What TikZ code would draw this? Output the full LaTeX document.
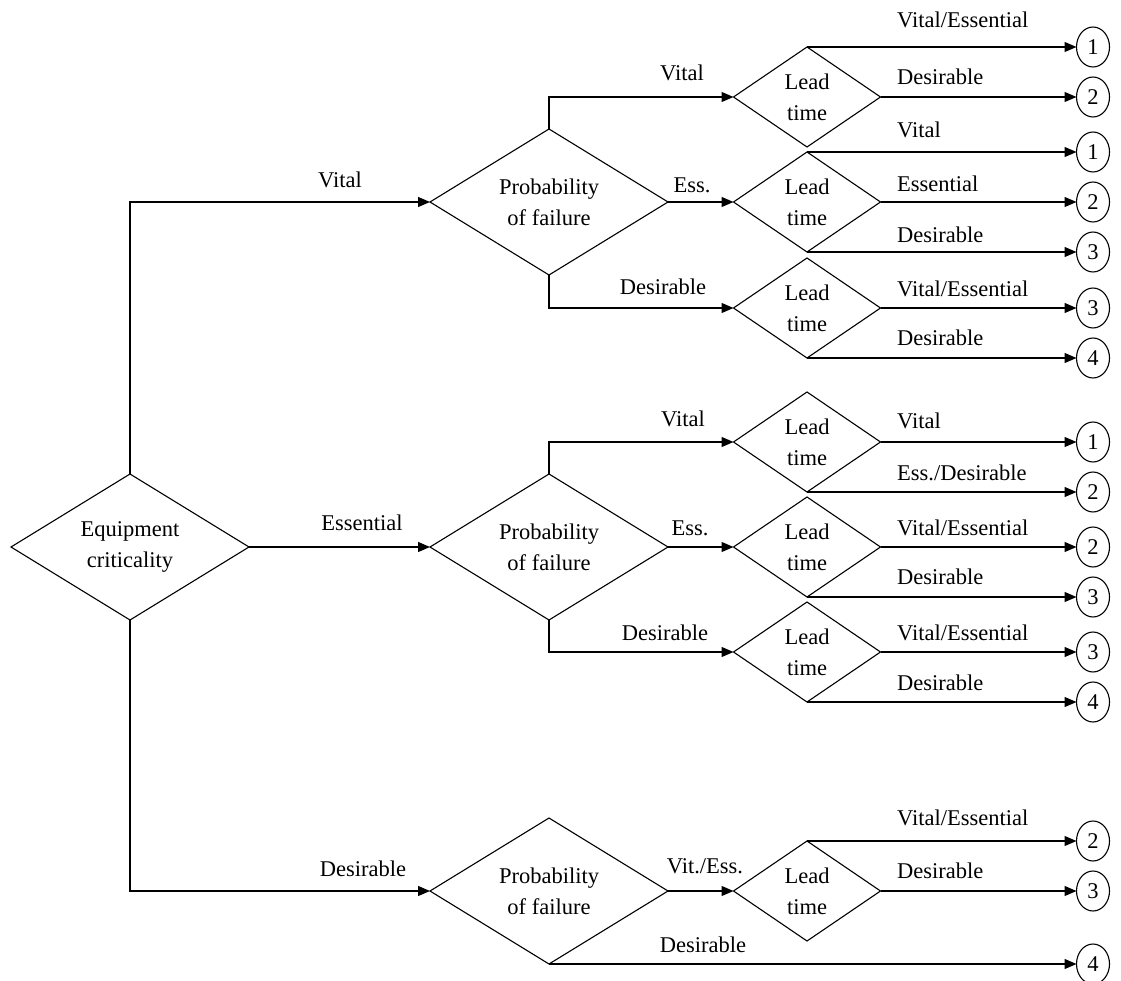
\documentclass[tikz,border=0pt]{standalone}
\usepackage{fontspec}
\setmainfont{Liberation Serif}
\usetikzlibrary{shapes.geometric,arrows.meta}
\begin{document}
\begin{tikzpicture}[x=1pt,y=-1pt,
  every node/.style={font=\fontsize{22.5}{31}\selectfont},
  dec/.style={draw, diamond, inner sep=0pt, outer sep=0pt, align=center, line width=1.1pt},
  big/.style={dec, aspect=1.63, minimum width=238pt, minimum height=146pt},
  lead/.style={dec, aspect=1.47, minimum width=147pt, minimum height=100pt},
  outc/.style={draw, ellipse, minimum width=33pt, minimum height=40pt, inner sep=0pt, outer sep=0pt, line width=1.1pt},
  lbl/.style={anchor=base, inner sep=0pt},
  lblw/.style={anchor=base west, inner sep=0pt},
  conn/.style={line width=1.2pt},
  arr/.style={conn, -{Triangle[length=12pt,width=10pt]}}]
\useasboundingbox[fill=white] (0,0) rectangle (1121,981);

% decision diamonds
\node[big] (E)  at (130,547) {Equipment\\criticality};
\node[big] (P1) at (549,202) {Probability\\of failure};
\node[big] (P2) at (549,547) {Probability\\of failure};
\node[big] (P3) at (549,891) {Probability\\of failure};

\node[lead] (L11) at (807,97)  {Lead\\time};
\node[lead] (L12) at (807,202) {Lead\\time};
\node[lead] (L13) at (807,308) {Lead\\time};
\node[lead] (L21) at (807,442) {Lead\\time};
\node[lead] (L22) at (807,547) {Lead\\time};
\node[lead] (L23) at (807,652) {Lead\\time};
\node[lead] (L31) at (807,891) {Lead\\time};

% column of outcome ovals
\coordinate (col) at (1093,0);
\node[outc] (o1a) at (L11.north -| col) {1};
\node[outc] (o1b) at (L11.east  -| col) {2};
\node[outc] (o1c) at (L12.north -| col) {1};
\node[outc] (o1d) at (L12.east  -| col) {2};
\node[outc] (o1e) at (L12.south -| col) {3};
\node[outc] (o1f) at (L13.east  -| col) {3};
\node[outc] (o1g) at (L13.south -| col) {4};
\node[outc] (o2a) at (L21.east  -| col) {1};
\node[outc] (o2b) at (L21.south -| col) {2};
\node[outc] (o2c) at (L22.east  -| col) {2};
\node[outc] (o2d) at (L22.south -| col) {3};
\node[outc] (o2e) at (L23.east  -| col) {3};
\node[outc] (o2f) at (L23.south -| col) {4};
\node[outc] (o3a) at (L31.north -| col) {2};
\node[outc] (o3b) at (L31.east  -| col) {3};
\node[outc] (o3c) at (P3.south  -| col) {4};

% equipment criticality branches
\draw[arr] (E.north) |- (P1.west);
\draw[arr] (E.east) -- (P2.west);
\draw[arr] (E.south) |- (P3.west);
\node[lbl] (tE1) at (340,188) {Vital};
\node[lbl] (tE2) at (362,530) {Essential};
\node[lbl] (tE3) at (363,876) {Desirable};

% probability of failure branches
\draw[arr] (P1.north) |- (L11.west);
\draw[arr] (P1.east) -- (L12.west);
\draw[arr] (P1.south) |- (L13.west);
\node[lbl] (tP1a) at (682,81)  {Vital};
\node[lbl] (tP1b) at (692,193) {Ess.};
\node[lbl] (tP1c) at (663,295) {Desirable};

\draw[arr] (P2.north) |- (L21.west);
\draw[arr] (P2.east) -- (L22.west);
\draw[arr] (P2.south) |- (L23.west);
\node[lbl] (tP2a) at (683,426) {Vital};
\node[lbl] (tP2b) at (690,535) {Ess.};
\node[lbl] (tP2c) at (665,640) {Desirable};

\draw[arr] (P3.east) -- (L31.west);
\draw[arr] (P3.south) -- (o3c);
\node[lbl] (tP3a) at (705,873) {Vit./Ess.};
\node[lbl] (tP3b) at (703,952) {Desirable};

% lead time branches
\draw[arr] (L11.north) -- (o1a);
\draw[arr] (L11.east)  -- (o1b);
\draw[arr] (L12.north) -- (o1c);
\draw[arr] (L12.east)  -- (o1d);
\draw[arr] (L12.south) -- (o1e);
\draw[arr] (L13.east)  -- (o1f);
\draw[arr] (L13.south) -- (o1g);
\node[lblw] (t1a) at (897,28)  {Vital/Essential};
\node[lblw] (t1b) at (897,85)  {Desirable};
\node[lblw] (t1c) at (897,138) {Vital};
\node[lblw] (t1d) at (897,192) {Essential};
\node[lblw] (t1e) at (897,243) {Desirable};
\node[lblw] (t1f) at (897,297) {Vital/Essential};
\node[lblw] (t1g) at (897,345) {Desirable};

\draw[arr] (L21.east)  -- (o2a);
\draw[arr] (L21.south) -- (o2b);
\draw[arr] (L22.east)  -- (o2c);
\draw[arr] (L22.south) -- (o2d);
\draw[arr] (L23.east)  -- (o2e);
\draw[arr] (L23.south) -- (o2f);
\node[lblw] (t2a) at (897,428) {Vital};
\node[lblw] (t2b) at (897,480) {Ess./Desirable};
\node[lblw] (t2c) at (897,535) {Vital/Essential};
\node[lblw] (t2d) at (897,584) {Desirable};
\node[lblw] (t2e) at (897,640) {Vital/Essential};
\node[lblw] (t2f) at (897,690) {Desirable};

\draw[arr] (L31.north) -- (o3a);
\draw[arr] (L31.east)  -- (o3b);
\node[lblw] (t3a) at (897,825) {Vital/Essential};
\node[lblw] (t3b) at (897,878) {Desirable};
\end{tikzpicture}
\end{document}
